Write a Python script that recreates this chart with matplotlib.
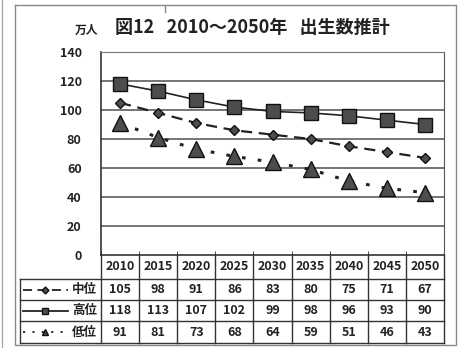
import numpy as np
import matplotlib.pyplot as plt
from matplotlib.lines import Line2D

plt.rcParams['font.family'] = ['Noto Sans CJK JP', 'DejaVu Sans']
plt.rcParams['font.weight'] = 'bold'

years = [2010, 2015, 2020, 2025, 2030, 2035, 2040, 2045, 2050]
mid = [105, 98, 91, 86, 83, 80, 75, 71, 67]
high = [118, 113, 107, 102, 99, 98, 96, 93, 90]
low = [91, 81, 73, 68, 64, 59, 51, 46, 43]
names = ['中位', '高位', '低位']

W, H = 463, 348
fig = plt.figure(figsize=(W / 100, H / 100), dpi=100)
fig.patch.set_facecolor('white')

# pixel layout of the plot box
px_l, px_r, px_t, px_b = 101, 444, 52, 255
col_w = (px_r - px_l) / len(years)

ax = fig.add_axes([px_l / W, (H - px_b) / H, (px_r - px_l) / W, (px_b - px_t) / H])
ax.set_xlim(-0.5, len(years) - 0.5)
ax.set_ylim(0, 140)
x = np.arange(len(years))

for g in range(20, 141, 20):
    ax.axhline(g, color='#6a6a6a', lw=1.3, zorder=1)

ax.set_yticks(range(0, 141, 20))
ax.set_yticklabels([str(v) for v in range(0, 141, 20)], fontsize=9, fontweight='bold', color='#222')
ax.tick_params(axis='y', length=0, pad=14)
ax.set_xticks([])
ax.set_xticks(np.arange(-0.5, len(years), 1), minor=True)
ax.tick_params(axis='x', which='minor', direction='in', length=3, color='#333')
ax.set_xticklabels([], minor=True)
for s in ['left', 'bottom']:
    ax.spines[s].set_color('#222')
    ax.spines[s].set_linewidth(1.1)
ax.spines['top'].set_color('#777')
ax.spines['right'].set_color('#555')

styles = {
    '中位': dict(ls=(0, (5, 3)), lw=1.6, marker='D', ms=5),
    '高位': dict(ls='-', lw=1.2, marker='s', ms=10),
    '低位': dict(ls=(0, (1.2, 4)), lw=2.2, marker='^', ms=11),
}
for name, vals in zip(names, [mid, high, low]):
    ax.plot(x, vals, color='#222', mfc='#4d4d4d', mec='#111', mew=1,
            zorder=3, **styles[name])

# overlay in pixel coordinates for title, frame and data table
ov = fig.add_axes([0, 0, 1, 1])
ov.set_xlim(0, W)
ov.set_ylim(H, 0)
ov.axis('off')
ov.patch.set_visible(False)

ov.text(115, 27, '図12   2010～2050年   出生数推計', fontsize=13, fontweight='bold',
        color='#222', va='center', ha='left')
ov.text(75, 30, '万人', fontsize=8.5, fontweight='bold', color='#222', va='center')

frame_c = '#888'
ov.plot([15, 456, 456, 15, 15], [5, 5, 345, 345, 5], color=frame_c, lw=1)
ov.plot([1.5, 1.5], [0, H], color='#aaa', lw=1)
ov.plot([165, 165], [5, 12], color=frame_c, lw=1)

row_y = [px_b, 279, 300, 321, 343]
line_c = '#333'
for i in range(len(years) + 1):
    xx = px_l + i * col_w
    ov.plot([xx, xx], [px_b, row_y[-1]], color=line_c, lw=1)
for yy in row_y[1:]:
    ov.plot([20, px_r], [yy, yy], color=line_c, lw=1)
ov.plot([20, 20], [row_y[1], row_y[-1]], color=line_c, lw=1)

for i, yr in enumerate(years):
    ov.text(px_l + (i + 0.5) * col_w, (row_y[0] + row_y[1]) / 2, str(yr),
            fontsize=9, fontweight='bold', color='#222', ha='center', va='center')

for r, (name, vals) in enumerate(zip(names, [mid, high, low])):
    cy = (row_y[r + 1] + row_y[r + 2]) / 2
    st = dict(styles[name])
    st['ms'] = {'中位': 3.5, '高位': 5, '低位': 5}[name]
    st['lw'] = 1.3
    ov.add_line(Line2D([23, 45, 68], [cy, cy, cy], color='#222', mfc='#4d4d4d',
                       mec='#111', markevery=[1], **st))
    ov.text(97, cy, name, fontsize=9, fontweight='bold', color='#222',
            ha='right', va='center')
    for i, v in enumerate(vals):
        ov.text(px_l + (i + 0.5) * col_w, cy, str(v), fontsize=9, fontweight='bold',
                color='#222', ha='center', va='center')

fig.savefig('out.png', dpi=100)
